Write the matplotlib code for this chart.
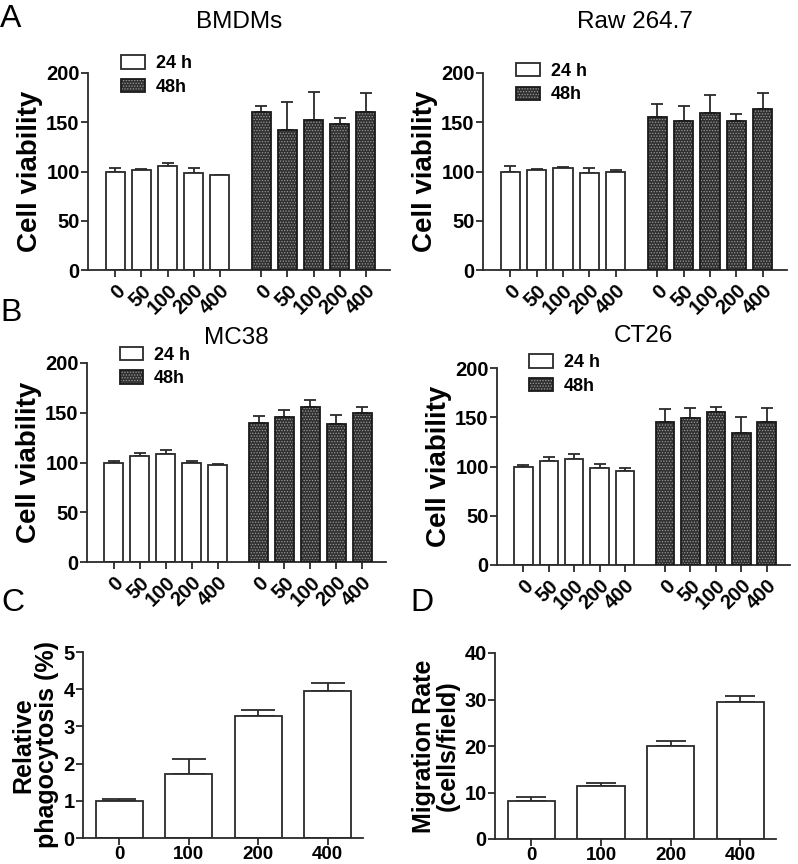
import matplotlib
matplotlib.use("Agg")
import matplotlib.pyplot as plt
from matplotlib.patches import Patch
from matplotlib.legend_handler import HandlerTuple
import numpy as np

plt.rcParams['font.family'] = ['Liberation Sans', 'DejaVu Sans']
plt.rcParams['hatch.linewidth'] = 0.6

# ---------------- data ----------------
conc = ['0', '50', '100', '200', '400']

bmdm_24 = [99, 102, 106, 98, 96]
bmdm_24_err = [5, 1, 3, 6, 0.5]
bmdm_48 = [160, 142, 152, 148, 160]
bmdm_48_err = [7, 29, 29, 6, 20]

raw_24 = [100, 102, 104, 98, 99]
raw_24_err = [6, 0.5, 0.5, 6, 3]
raw_48 = [155, 151, 159, 151, 163]
raw_48_err = [14, 16, 19, 7, 17]

mc38_24 = [99, 107, 109, 100, 97.5]
mc38_24_err = [3, 3, 4, 2, 0.5]
mc38_48 = [140, 146, 156, 139, 150]
mc38_48_err = [7, 7, 7, 9, 6]

ct26_24 = [99, 106, 108, 98, 95]
ct26_24_err = [3, 4, 5, 5, 3]
ct26_48 = [145, 149, 155, 134, 145]
ct26_48_err = [13, 10, 5, 16, 14]

dose = ['0', '100', '200', '400']
phago = [1.0, 1.73, 3.28, 3.96]
phago_err = [0.05, 0.39, 0.17, 0.2]
migr = [8.1, 11.4, 19.9, 29.4]
migr_err = [0.9, 0.7, 1.1, 1.4]

# ---------------- style ----------------
W, H = 798, 864
fig = plt.figure(figsize=(W / 100, H / 100), dpi=100)
AX_COL = '#2a2a2a'
DARK = '#303030'
LW = 1.3


def px_axes(x0, x1, y_top, y_bot):
    return fig.add_axes([x0 / W, (H - y_bot) / H, (x1 - x0) / W, (y_bot - y_top) / H])


def style(ax):
    for s in ['top', 'right']:
        ax.spines[s].set_visible(False)
    for s in ['left', 'bottom']:
        ax.spines[s].set_linewidth(LW)
        ax.spines[s].set_color(AX_COL)
    ax.tick_params(axis='both', direction='out', length=5, width=LW, color=AX_COL,
                   labelsize=14.5, pad=1)
    for t in ax.get_yticklabels():
        t.set_fontweight('bold')


def viability(ax, v24, e24, v48, e48, title, title_dy, leg_top):
    n = len(conc)
    x1 = np.arange(n)
    x2 = np.arange(n) + n - 1 + 1.58
    bw = 0.73
    ax.bar(x1, v24, bw, facecolor='white', edgecolor=AX_COL, linewidth=LW, zorder=2)
    ax.bar(x2, v48, bw, facecolor=DARK, edgecolor='#9a9a9a', hatch='......',
           linewidth=0, zorder=2)
    ax.bar(x2, v48, bw, fill=False, edgecolor='#1a1a1a', linewidth=LW, zorder=3)
    ax.errorbar(x1, v24, yerr=[np.zeros(n), e24], fmt='none', ecolor=AX_COL,
                elinewidth=LW, capsize=4, capthick=LW, zorder=1)
    ax.errorbar(x2, v48, yerr=[np.zeros(n), e48], fmt='none', ecolor=AX_COL,
                elinewidth=LW, capsize=4, capthick=LW, zorder=1)
    ax.set_ylim(0, 200)
    ax.set_xlim(-1.04, x2[-1] + 0.92)
    ax.set_yticks([0, 50, 100, 150, 200])
    ax.set_xticks(np.concatenate([x1, x2]))
    ax.set_xticklabels(conc + conc, rotation=45, ha='right', rotation_mode='anchor',
                       fontweight='bold', fontsize=14.5)
    ax.spines['left'].set_bounds(0, 200)
    style(ax)
    ax.tick_params(axis='x', pad=3)
    ax.set_ylabel('Cell viability', fontsize=20, fontweight='bold', labelpad=2)
    ax.text(0.5, 1 + title_dy, title, transform=ax.transAxes, ha='center',
            va='center', fontsize=17.5)
    h24 = Patch(facecolor='white', edgecolor=AX_COL, linewidth=LW)
    h48a = Patch(facecolor=DARK, edgecolor='#9a9a9a', hatch='......', linewidth=0)
    h48b = Patch(fill=False, edgecolor='#1a1a1a', linewidth=LW)
    ax.legend([h24, (h48a, h48b)], ['24 h', '48h'],
              handler_map={tuple: HandlerTuple(ndivide=1, pad=0)},
              loc='upper left', bbox_to_anchor=(0.11, leg_top), frameon=False,
              borderpad=0, borderaxespad=0, handlelength=1.3, handleheight=0.75,
              labelspacing=0.35, handletextpad=0.6,
              prop={'weight': 'bold', 'size': 13})


axA1 = px_axes(88, 390, 73, 270)
viability(axA1, bmdm_24, bmdm_24_err, bmdm_48, bmdm_48_err, 'BMDMs', 0.26, 1.09)
axA2 = px_axes(483, 787, 73, 270)
viability(axA2, raw_24, raw_24_err, raw_48, raw_48_err, 'Raw 264.7', 0.26, 1.05)
axB1 = px_axes(87, 386, 363, 562)
viability(axB1, mc38_24, mc38_24_err, mc38_48, mc38_48_err, 'MC38', 0.125, 1.08)
axB2 = px_axes(497, 790, 368, 565)
viability(axB2, ct26_24, ct26_24_err, ct26_48, ct26_48_err, 'CT26', 0.16, 1.07)


def simple(ax, vals, errs, ymax, ystep, ylabel, capsize):
    n = len(dose)
    x = np.arange(n)
    ax.bar(x, vals, 0.675, facecolor='white', edgecolor=AX_COL, linewidth=LW, zorder=2)
    ax.errorbar(x, vals, yerr=[np.zeros(n), errs], fmt='none', ecolor=AX_COL,
                elinewidth=LW, capsize=capsize, capthick=LW, zorder=1)
    ax.set_ylim(0, ymax)
    ax.set_xlim(-0.52, n - 1 + 0.51)
    ax.set_yticks(np.arange(0, ymax + 0.001, ystep))
    ax.set_xticks(x)
    ax.set_xticklabels(dose, fontweight='bold', fontsize=13.5)
    ax.spines['left'].set_bounds(0, ymax)
    style(ax)
    ax.tick_params(axis='x', pad=1, labelsize=13.5)
    ax.set_ylabel(ylabel, fontsize=18, fontweight='bold', labelpad=3, linespacing=1.0)


axC = px_axes(83, 363, 652, 838)
simple(axC, phago, phago_err, 5, 1, 'Relative\nphagocytosis (%)', 12)
axD = px_axes(495, 776, 653, 839)
simple(axD, migr, migr_err, 40, 10, 'Migration Rate\n(cells/field)', 11)

# panel letters
for lbl, x, y in [('A', 0, 19), ('B', 0, 313), ('C', 1, 603), ('D', 410, 603)]:
    fig.text(x / W, 1 - y / H, lbl, fontsize=23, ha='left', va='center')

fig.savefig('out.png', dpi=100)
